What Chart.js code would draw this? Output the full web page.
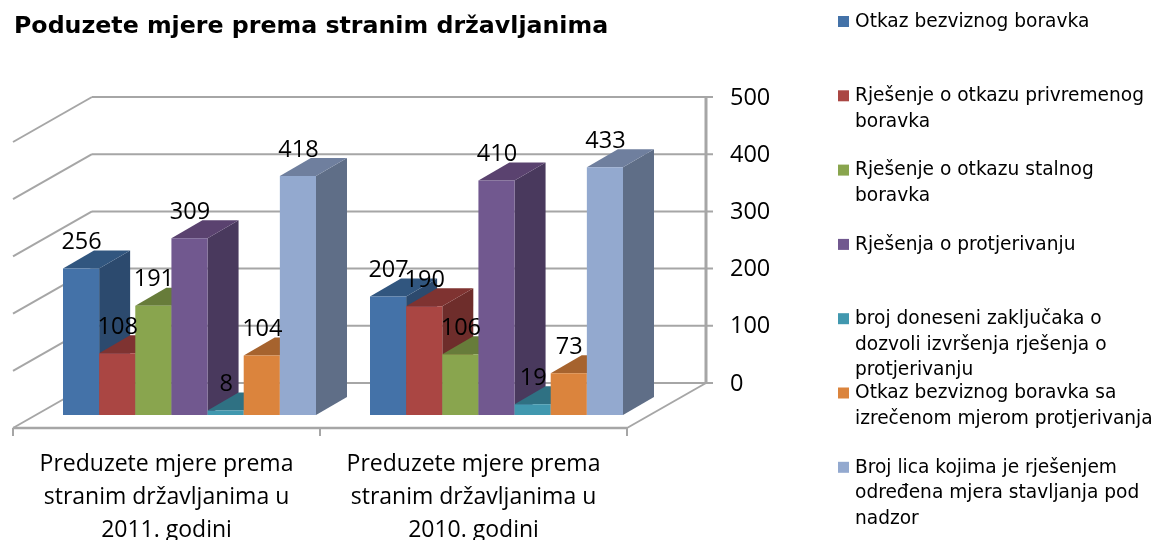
<!DOCTYPE html>
<html><head><meta charset="utf-8">
<style>html,body{margin:0;padding:0;background:#fff}#box{position:relative;width:1163px;height:540px}</style>
<script src="https://cdn.jsdelivr.net/npm/chart.js@4"></script>
</head><body><div id="box"><canvas id="c"></canvas></div>
<script>
const chartTitle = 'Poduzete mjere prema stranim državljanima';
const categories = [
  ['Preduzete mjere prema','stranim državljanima u','2011. godini'],
  ['Preduzete mjere prema','stranim državljanima u','2010. godini']
];
const otkazBezviznog = [256, 207];
const otkazPrivremenog = [108, 190];
const otkazStalnog = [191, 106];
const protjerivanje = [309, 410];
const zakljucci = [8, 19];
const otkazSaMjerom = [104, 73];
const nadzor = [418, 433];
const seriesValues = [otkazBezviznog, otkazPrivremenog, otkazStalnog, protjerivanje, zakljucci, otkazSaMjerom, nadzor];
const legendLines = [
  ['Otkaz bezviznog boravka'],
  ['Rješenje o otkazu privremenog','boravka'],
  ['Rješenje o otkazu stalnog','boravka'],
  ['Rješenja o protjerivanju'],
  ['broj doneseni zaključaka o','dozvoli izvršenja rješenja o','protjerivanju'],
  ['Otkaz bezviznog boravka sa','izrečenom mjerom protjerivanja'],
  ['Broj lica kojima je rješenjem','određena mjera stavljanja pod','nadzor']
];
const frontColors = ['#4472A8','#AA4643','#89A54E','#71588F','#4198AF','#DB843D','#93A9CF'];
const sideColors  = ['#2C4A6E','#6E2D2B','#5A6C33','#49395D','#2F7183','#A6632E','#5F6E87'];
const topColors   = ['#31567F','#7F3331','#677C3A','#5A426F','#2F7183','#A6632E','#6F7F9E'];

const GRID='#A6A6A6', TEXT='#000';
const depth={dx:31,dy:-18}, wall={dx:56,dy:-32}, floorFront={dx:-23,dy:13};
const numFont='23.5px "Open Sans"', catFontSize=23, legendFont='18.6px "DejaVu Sans"', titleFont='bold 23.7px "DejaVu Sans"';

function poly(ctx,pts,fill){ctx.beginPath();pts.forEach((p,i)=>i?ctx.lineTo(p[0],p[1]):ctx.moveTo(p[0],p[1]));ctx.closePath();ctx.fillStyle=fill;ctx.fill();}
function line(ctx,x1,y1,x2,y2){ctx.beginPath();ctx.moveTo(x1,y1);ctx.lineTo(x2,y2);ctx.stroke();}

const scene={
  id:'scene',
  beforeDatasetsDraw(chart){
    const {ctx,scales:{x,y}}=chart; const l=x.left,r=x.right;
    ctx.save();ctx.strokeStyle=GRID;ctx.lineWidth=2;
    y.ticks.forEach(t=>{
      const py=y.getPixelForValue(t.value);
      line(ctx,l+wall.dx,py+wall.dy,r+wall.dx+7,py+wall.dy);
      line(ctx,l+floorFront.dx,py+floorFront.dy,l+wall.dx,py+wall.dy);
    });
    const by=y.getPixelForValue(0), ty=y.getPixelForValue(y.max);
    ctx.lineWidth=3;
    line(ctx,r+wall.dx,by+wall.dy,r+wall.dx,ty+wall.dy-1);
    ctx.lineWidth=2;
    line(ctx,r+floorFront.dx,by+floorFront.dy,r+wall.dx,by+wall.dy);
    ctx.lineWidth=2.5;
    line(ctx,l+floorFront.dx,by+floorFront.dy,r+floorFront.dx,by+floorFront.dy);
    ctx.lineWidth=2;
    const step=(r-l)/categories.length;
    for(let i=0;i<=categories.length;i++){const tx=l+floorFront.dx+i*step;line(ctx,tx,by+floorFront.dy,tx,by+floorFront.dy+8);}
    ctx.fillStyle=TEXT;ctx.font=numFont;ctx.textAlign='left';ctx.textBaseline='middle';
    y.ticks.forEach(t=>ctx.fillText(String(t.value),r+wall.dx+24,y.getPixelForValue(t.value)+wall.dy+1));
    ctx.restore();
    // paint bars left to right so that each one overlaps the depth faces of the previous one
    chart.data.datasets.forEach((d,i)=>{
      const meta=chart.getDatasetMeta(i);
      meta.data.forEach(b=>{
        const p=b.getProps(['x','y','base','width'],true),L=p.x-p.width/2,R=p.x+p.width/2;
        poly(ctx,[[R,p.y],[R+depth.dx,p.y+depth.dy],[R+depth.dx,p.base+depth.dy],[R,p.base]],sideColors[i]);
        poly(ctx,[[L,p.y],[L+depth.dx,p.y+depth.dy],[R+depth.dx,p.y+depth.dy],[R,p.y]],topColors[i]);
      });
      meta.controller.draw();
    });
    return false;
  },
  afterDraw(chart){
    const {ctx}=chart;
    ctx.save();ctx.fillStyle=TEXT;ctx.font=numFont;ctx.textAlign='center';ctx.textBaseline='middle';
    chart.data.datasets.forEach((d,i)=>chart.getDatasetMeta(i).data.forEach((b,j)=>{
      ctx.fillText(String(d.data[j]),b.x+0.5,b.y-26);
    }));
    ctx.textAlign='left';ctx.font=titleFont;ctx.fillStyle=TEXT;
    ctx.fillText(chartTitle,14,27);
    ctx.font=legendFont;
    legendLines.forEach((ls,i)=>{
      const y0=22+i*74.3;
      ctx.fillStyle=frontColors[i];ctx.fillRect(838,y0-6,11,11);
      ctx.fillStyle=TEXT;
      ls.forEach((s,k)=>ctx.fillText(s,855,y0+k*25.7));
    });
    ctx.restore();
  }
};

new Chart(document.getElementById('c'),{
  type:'bar',
  data:{labels:categories,datasets:seriesValues.map((v,i)=>({
    label:legendLines[i].join(' '),data:v,backgroundColor:frontColors[i],borderWidth:0,
    categoryPercentage:253/307,barPercentage:1
  }))},
  options:{
    responsive:true,maintainAspectRatio:false,animation:false,
    layout:{padding:{left:36,right:513,top:129,bottom:0}},
    plugins:{legend:{display:false},title:{display:false},tooltip:{enabled:false}},
    scales:{
      x:{grid:{display:false},border:{display:false},
        afterFit(s){s.height=125;},
        ticks:{autoSkip:false,maxRotation:0,minRotation:0,labelOffset:-23,padding:25,color:TEXT,
          font:{family:'"Open Sans"',size:catFontSize,lineHeight:1.43}}},
      y:{display:false,min:0,max:500,ticks:{stepSize:100}}
    }
  },
  plugins:[scene]
});
</script></body></html>
